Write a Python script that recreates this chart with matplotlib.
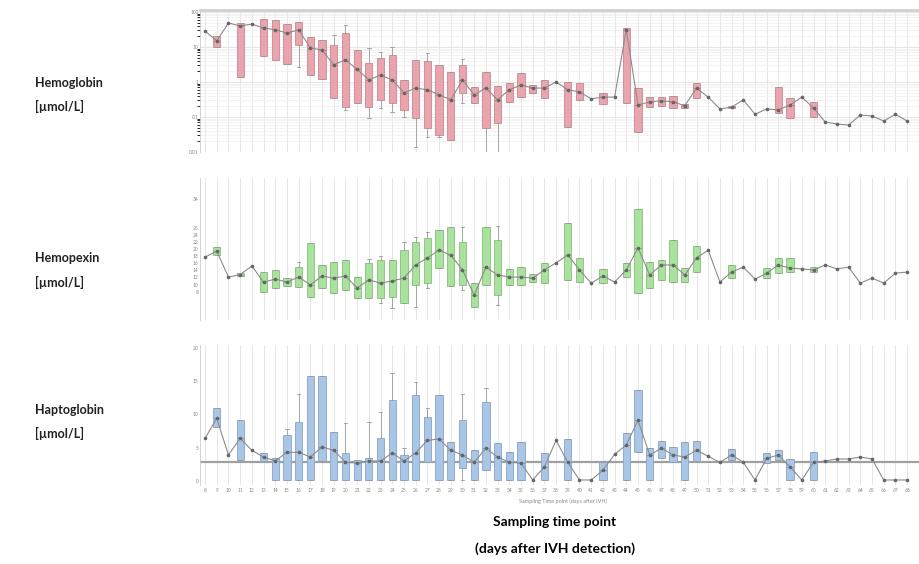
import matplotlib.pyplot as plt
from matplotlib.ticker import NullFormatter

# Data (61 sampling days)
days = list(range(8, 69))

# Hemoglobin: centre value per day, box edges (None = single value), whisker ends
hb_mid = [28.6, 15, 48.5, 40, 45, 35, 31, 25, 31, 9.4, 8.2, 3.1, 4.3, 2.3, 1.14, 1.58, 1.14, 0.49, 0.67, 0.6,
          0.43, 0.31, 1.14, 0.43, 0.67, 0.31, 0.6, 0.82, 0.67, 0.67, 1.0, 0.6, 0.52, 0.33, 0.37, 0.37, 31, 0.22,
          0.27, 0.29, 0.27, 0.21, 0.67, 0.37, 0.17, 0.19, 0.31, 0.12, 0.17, 0.16, 0.22, 0.37, 0.18, 0.072, 0.063,
          0.059, 0.114, 0.107, 0.077, 0.12, 0.077]
hb_q1 = [None, 10, None, 1.39, None, 5.5, 4.3, 3.3, 11.4, 1.58, 1.22, 0.35, 0.19, 0.25, 0.19, 0.31, 0.25, 0.16,
         0.094, 0.049, 0.031, 0.022, 0.49, 0.25, 0.049, 0.067, 0.27, 0.37, 0.49, 0.35, None, 0.052, 0.31, None,
         0.235, None, 0.25, 0.037, 0.19, 0.21, 0.18, 0.18, 0.35, None, None, 0.18, None, None, None, 0.13, 0.094,
         None, 0.1, None, None, None, None, None, None, None, None]
hb_q3 = [None, 20.6, None, 48.5, None, 63, 59, 45, 52, 19.3, 15.8, 11.4, 25, 8.2, 3.5, 4.9, 5.9, 1.14, 4.3, 4.0,
         3.1, 1.93, 3.1, 0.72, 1.93, 0.77, 0.94, 1.8, 0.82, 1.14, None, 1.0, 0.94, None, 0.49, None, 35, 0.67,
         0.37, 0.37, 0.4, 0.235, 0.94, None, None, 0.21, None, None, None, 0.72, 0.35, None, 0.27, None, None,
         None, None, None, None, None, None]
hb_lo = {8: 2.7, 12: 0.16, 14: 0.094, 15: 0.18, 16: 0.14, 17: 0.1, 18: 0.014, 19: 0.027, 20: 0.027,
         22: 0.25, 24: 0.009, 25: 0.009}
hb_hi = {11: 22, 12: 42.5, 14: 9.4, 15: 7.2, 16: 10, 19: 6.7, 22: 4.5}

# Hemopexin
hpx_mid = [17.7, 19.4, 12.1, 12.8, 15.2, 10.7, 11.5, 10.7, 12.1, 9.9, 12.4, 11.8, 12.4, 9.0, 11.3, 10.4, 11.0,
           11.8, 15.5, 17.5, 19.7, 18.3, 14.1, 7.0, 14.9, 12.7, 12.1, 12.1, 11.8, 14.1, 16.1, 18.3, 14.1, 10.4,
           12.4, 10.7, 14.1, 20.3, 12.7, 15.5, 15.5, 12.7, 17.5, 19.7, 10.7, 13.5, 14.9, 11.5, 13.2, 15.5, 14.6,
           14.4, 14.1, 15.5, 14.4, 14.9, 10.4, 11.8, 10.4, 13.2, 13.5]
hpx_q1 = [None, 18.3, None, 12.4, None, 7.9, 9.0, 9.6, 9.3, 6.5, 9.0, 7.6, 8.5, 6.2, 6.2, 6.2, 6.5, 4.8, 9.9,
          10.4, 14.6, 9.6, 9.9, 3.7, 9.9, 7.0, 9.9, 9.9, 10.7, 10.4, None, 11.3, 10.7, None, 10.4, None, 12.1,
          7.6, 9.0, 11.3, 10.7, 10.7, 13.5, None, None, 11.8, None, None, 11.8, 13.2, 13.5, None, 13.5, None,
          None, None, None, None, None, None, None]
hpx_q3 = [None, 20.6, None, 13.2, None, 13.5, 14.1, 11.8, 14.9, 21.7, 15.5, 16.3, 16.9, 12.1, 16.1, 16.9, 16.9,
          19.7, 22, 23.1, 25.4, 26.2, 22, 10.4, 26.2, 22.5, 14.4, 14.9, 13.0, 16.1, None, 27.3, 17.5, None, 14.4,
          None, 16.1, 31.3, 16.3, 16.9, 22.5, 14.6, 20.8, None, None, 15.5, None, None, 14.6, 17.5, 17.5, None,
          14.9, None, None, None, None, None, None, None, None]
hpx_lo = {15: 4.8, 16: 3.4, 18: 3.7, 19: 9.0, 22: 8.5, 25: 4.2}
hpx_hi = {8: 16.3, 14: 17.2, 15: 18.0, 17: 22, 18: 23.4, 19: 24.8, 22: 26.2, 25: 26.5}

# Haptoglobin
hp_mid = [6.4, 9.4, 3.9, 6.4, 4.6, 3.6, 3.0, 4.3, 4.3, 3.6, 5.1, 4.6, 2.8, 2.7, 3.0, 3.0, 4.2, 3.0, 4.2, 6.1,
          6.3, 4.6, 3.9, 2.8, 4.9, 3.6, 2.8, 2.7, 0.15, 2.1, 6.1, 2.8, 0.15, 0.15, 1.6, 4.0, 5.4, 9.1, 3.9, 4.9,
          3.9, 3.6, 4.6, 3.7, 2.8, 3.9, 2.8, 0.15, 3.4, 3.9, 2.1, 0.15, 2.8, 3.0, 3.3, 3.3, 3.6, 3.3, 0.15,
          0.15, 0.15]
hp_q1 = [None, 8.1, None, 3.1, None, 3.0, 0.15, 0.15, 0.15, 0.15, 3.0, 0.15, 0.15, 0.15, 0.15, 0.15, 0.15, 0.15,
         0.15, 2.8, 0.15, 0.15, 1.9, 0.15, 1.6, 0.15, 0.15, 0.15, None, 0.15, None, 0.15, None, None, 0.15, None,
         0.15, 4.3, 0.15, 3.4, 2.8, 0.15, 3.0, None, None, 3.1, None, None, 2.7, 3.1, 0.15, None, 0.15, None,
         None, None, None, None, None, None, None]
hp_q3 = [None, 10.9, None, 9.1, None, 4.2, 3.4, 6.9, 8.8, 15.7, 15.7, 7.3, 4.2, 3.1, 3.4, 6.4, 12.1, 3.9, 12.9,
         9.6, 12.9, 5.8, 9.1, 4.6, 11.8, 5.7, 4.3, 5.8, None, 4.2, None, 6.3, None, None, 2.8, None, 7.2, 13.6,
         4.9, 6.0, 5.1, 5.8, 6.0, None, None, 4.8, None, None, 4.2, 4.6, 3.3, None, 4.3, None, None, None,
         None, None, None, None, None]
hp_lo = {22: 0.15}
hp_hi = {7: 7.8, 8: 13.0, 12: 8.7, 14: 8.8, 15: 10.3, 16: 16.2, 17: 5.0, 18: 14.8, 19: 10.9, 22: 13.0, 24: 13.9}
hp_ref = 2.85

plt.rcParams['font.family'] = ['Lato', 'DejaVu Sans']
fig = plt.figure(figsize=(9.2, 5.64), dpi=100)

ax_hb = fig.add_axes([0.2174, 0.7305, 0.7826, 0.2518])
ax_hpx = fig.add_axes([0.2174, 0.4326, 0.7826, 0.2518])
ax_hp = fig.add_axes([0.2174, 0.1401, 0.7826, 0.2482])


def draw_panel(ax, mid, q1, q3, lo, hi, face, edge):
    stats, pos = [], []
    for i in range(len(mid)):
        if q1[i] is None:
            continue
        stats.append(dict(med=mid[i], q1=q1[i], q3=q3[i],
                          whislo=lo.get(i, q1[i]), whishi=hi.get(i, q3[i]), fliers=[]))
        pos.append(i)
    ax.bxp(stats, positions=pos, widths=0.62, patch_artist=True, showcaps=True,
           boxprops=dict(facecolor=face, edgecolor=edge, linewidth=0.6),
           medianprops=dict(color=edge, linewidth=0.8),
           whiskerprops=dict(color='#9a9a9a', linewidth=0.6),
           capprops=dict(color='#9a9a9a', linewidth=0.6), manage_ticks=False, zorder=3)
    ax.plot(range(len(mid)), mid, color='#8c8c8c', lw=0.8, marker='o', ms=1.6,
            mfc='#666666', mec='#666666', zorder=4)
    ax.set_xlim(-0.43, 61.1)
    ax.set_xticks(range(len(days)))
    ax.grid(axis='x', color='#e2e2e2', lw=0.6)
    ax.set_axisbelow(True)
    for s in ['top', 'right', 'bottom']:
        ax.spines[s].set_visible(False)
    ax.spines['left'].set_color('#cccccc')
    ax.spines['left'].set_linewidth(0.6)
    ax.tick_params(axis='both', length=0, labelsize=3.5, labelcolor='#888888', pad=1)


draw_panel(ax_hb, hb_mid, hb_q1, hb_q3, hb_lo, hb_hi, '#eaa4ad', '#c98790')
ax_hb.set_yscale('log')
ax_hb.set_ylim(0.01, 114)
ax_hb.yaxis.set_minor_formatter(NullFormatter())
ax_hb.set_yticks([0.01, 0.1, 1, 10, 100])
ax_hb.set_yticklabels(['0.01', '0.1', '1', '10', '100'])
ax_hb.grid(axis='y', which='major', color='#e2e2e2', lw=0.6)
ax_hb.grid(axis='y', which='minor', color='#efefef', lw=0.5)
ax_hb.spines['top'].set_visible(True)
ax_hb.spines['top'].set_color('#d0d0d0')
ax_hb.spines['top'].set_linewidth(2)
ax_hb.set_xticklabels([])

draw_panel(ax_hpx, hpx_mid, hpx_q1, hpx_q3, hpx_lo, hpx_hi, '#a9e29d', '#86c07a')
ax_hpx.set_ylim(0, 40)
ax_hpx.set_yticks([8, 10, 12, 14, 16, 18, 20, 22, 24, 26, 34])
ax_hpx.set_xticklabels([])

draw_panel(ax_hp, hp_mid, hp_q1, hp_q3, hp_lo, hp_hi, '#aac6e6', '#86a3c6')
ax_hp.axhline(hp_ref, color='#a0a0a0', lw=1.6, zorder=2)
ax_hp.set_ylim(-0.6, 20.4)
ax_hp.set_yticks([0, 5, 10, 15, 20])
ax_hp.set_xticklabels([str(d) for d in days])
ax_hp.tick_params(axis='x', labelsize=3.5, pad=2)

fig.text(0.612, 0.108, 'Sampling Time point (days after IVH)', fontsize=4, color='#888888', ha='center')

# Panel labels on the left
for name, y in [('Hemoglobin', 0.853), ('Hemopexin', 0.542), ('Haptoglobin', 0.273)]:
    fig.text(0.038, y, name, fontsize=9, fontweight='bold', color='#222222', va='center')
    fig.text(0.038, y - 0.042, '[µmol/L]', fontsize=9, fontweight='bold', color='#222222', va='center')

fig.text(0.603, 0.075, 'Sampling time point', fontsize=10, fontweight='bold', ha='center', va='center')
fig.text(0.603, 0.028, '(days after IVH detection)', fontsize=10, fontweight='bold', ha='center', va='center')

fig.savefig('out.png', dpi=100, facecolor='white')
